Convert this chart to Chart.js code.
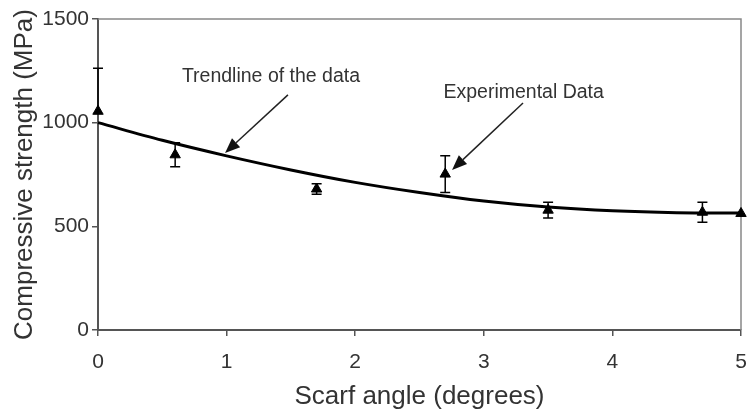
<!DOCTYPE html>
<html>
<head>
<meta charset="utf-8">
<script src="https://cdn.jsdelivr.net/npm/chart.js@4/dist/chart.umd.min.js"></script>
<style>
  html, body { margin: 0; padding: 0; background: #fff; }
  #wrap { width: 748px; height: 412px; }
</style>
</head>
<body>
<div id="wrap"><canvas id="scarfChart"></canvas></div>
<script>
/* ── data ── */
const trendAngles   = [0, 0.5, 1, 1.5, 2, 2.5, 3, 3.5, 4, 4.5, 5];
const trendStrength = [1000, 915, 840, 772, 712, 663, 622, 593, 575, 566, 564];

const expAngles   = [0, 0.6, 1.7, 2.7, 3.5, 4.7, 5];
const expStrength = [1055, 845, 680, 752, 578, 568, 562];
const expErrUp    = [208, 58, 25, 89, 38, 48, 0];
const expErrDown  = [0, 58, 25, 89, 38, 48, 0];

const xTicks = [0, 1, 2, 3, 4, 5];
const yTicks = [0, 500, 1000, 1500];

// annotation labels + arrows, in data units
const notes = [
  { text: 'Trendline of the data', at: [1.345, 1221], from: [1.477, 1134], to: [0.988, 854] },
  { text: 'Experimental Data',     at: [3.31, 1143],  from: [3.305, 1095], to: [2.753, 772] }
];

const FONT  = "'Liberation Sans', Arial, Helvetica, sans-serif";
const INK   = '#333';
const AXIS  = '#555';

/* ── error bars, frame, arrows ── */
const extras = {
  id: 'extras',
  beforeDatasetsDraw(chart) {
    const { ctx, chartArea: a } = chart;
    ctx.save();
    ctx.strokeStyle = '#888';
    ctx.lineWidth = 1.5;
    ctx.beginPath();
    ctx.moveTo(a.left, a.top);
    ctx.lineTo(a.right, a.top);
    ctx.lineTo(a.right, a.bottom);
    ctx.stroke();
    ctx.restore();
  },
  afterDatasetsDraw(chart) {
    const { ctx, scales: { x, y } } = chart;
    ctx.save();
    ctx.strokeStyle = '#000';
    ctx.lineWidth = 1.5;
    expAngles.forEach((a, i) => {
      const px = x.getPixelForValue(a);
      const hi = y.getPixelForValue(expStrength[i] + expErrUp[i]);
      const lo = y.getPixelForValue(expStrength[i] - expErrDown[i]);
      ctx.beginPath();
      ctx.moveTo(px, hi); ctx.lineTo(px, lo);
      if (expErrUp[i])   { ctx.moveTo(px - 5, hi); ctx.lineTo(px + 5, hi); }
      if (expErrDown[i]) { ctx.moveTo(px - 5, lo); ctx.lineTo(px + 5, lo); }
      ctx.stroke();
    });

    notes.forEach(n => {
      const x1 = x.getPixelForValue(n.from[0]), y1 = y.getPixelForValue(n.from[1]);
      const x2 = x.getPixelForValue(n.to[0]),   y2 = y.getPixelForValue(n.to[1]);
      const ang = Math.atan2(y2 - y1, x2 - x1);
      const len = 15, half = 6;
      const bx = x2 - len * Math.cos(ang), by = y2 - len * Math.sin(ang);
      ctx.strokeStyle = '#222';
      ctx.lineWidth = 1.5;
      ctx.beginPath();
      ctx.moveTo(x1, y1); ctx.lineTo(bx, by);
      ctx.stroke();
      ctx.fillStyle = '#111';
      ctx.beginPath();
      ctx.moveTo(x2, y2);
      ctx.lineTo(bx + half * Math.sin(ang), by - half * Math.cos(ang));
      ctx.lineTo(bx - half * Math.sin(ang), by + half * Math.cos(ang));
      ctx.closePath();
      ctx.fill();

      ctx.fillStyle = INK;
      ctx.font = '19.5px ' + FONT;
      ctx.textAlign = 'center';
      ctx.textBaseline = 'middle';
      ctx.fillText(n.text, x.getPixelForValue(n.at[0]), y.getPixelForValue(n.at[1]));
    });
    ctx.restore();
  }
};

new Chart(document.getElementById('scarfChart'), {
  type: 'scatter',
  data: {
    datasets: [
      {
        label: 'Experimental Data',
        data: expAngles.map((a, i) => ({ x: a, y: expStrength[i] })),
        pointStyle: 'triangle',
        pointRadius: 6,
        pointHoverRadius: 6,
        backgroundColor: '#000',
        borderColor: '#000',
        borderWidth: 1,
        showLine: false,
        clip: false,
        order: 1
      },
      {
        label: 'Trendline of the data',
        data: trendAngles.map((a, i) => ({ x: a, y: trendStrength[i] })),
        showLine: true,
        borderColor: '#000',
        borderWidth: 3,
        pointRadius: 0,
        cubicInterpolationMode: 'monotone',
        fill: false,
        clip: false,
        order: 2
      }
    ]
  },
  options: {
    responsive: true,
    maintainAspectRatio: false,
    animation: false,
    layout: { padding: { top: 19, right: 7, bottom: 0, left: 0 } },
    plugins: {
      legend: { display: false },
      tooltip: { enabled: false }
    },
    scales: {
      x: {
        type: 'linear',
        min: 0, max: 5,
        afterBuildTicks: s => { s.ticks = xTicks.map(v => ({ value: v })); },
        afterFit: s => { s.height = 82; s.paddingLeft = 0; s.paddingRight = 0; },
        border: { display: true, color: AXIS, width: 2 },
        grid: { drawOnChartArea: false, drawTicks: true, tickLength: 6, color: AXIS, lineWidth: 1.5 },
        ticks: { color: INK, font: { family: FONT, size: 21 }, padding: 14, maxRotation: 0,
                 callback: v => String(v) },
        title: { display: true, text: 'Scarf angle (degrees)', color: INK,
                 font: { family: FONT, size: 26 }, padding: { top: 0, bottom: 0 } }
      },
      y: {
        type: 'linear',
        min: 0, max: 1500,
        afterBuildTicks: s => { s.ticks = yTicks.map(v => ({ value: v })); },
        afterFit: s => { s.width = 98; },
        border: { display: true, color: AXIS, width: 2 },
        grid: { drawOnChartArea: false, drawTicks: true, tickLength: 6, color: AXIS, lineWidth: 1.5 },
        ticks: { color: INK, font: { family: FONT, size: 21 }, padding: 3,
                 callback: v => String(v) },
        title: { display: true, text: 'Compressive strength (MPa)', color: INK,
                 font: { family: FONT, size: 26 }, padding: { top: 9, bottom: 0 } }
      }
    }
  },
  plugins: [extras]
});
</script>
</body>
</html>
